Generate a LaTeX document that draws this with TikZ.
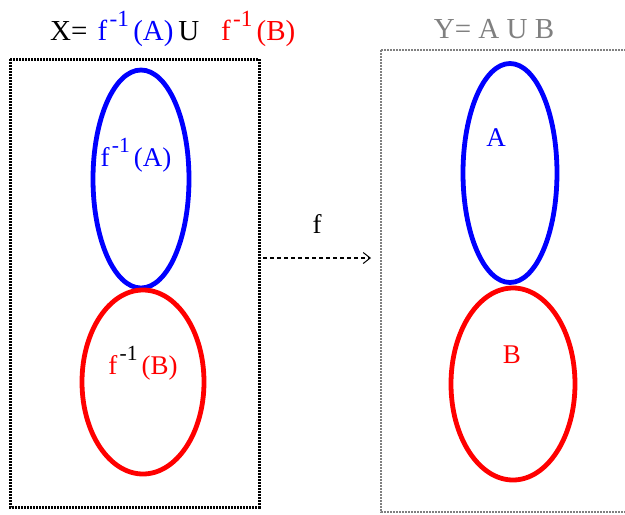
\documentclass[tikz,border=0pt]{standalone}
\usepackage{fontspec}
\usepackage{graphicx}
\setmainfont{Liberation Serif}
\usetikzlibrary{shapes.geometric,arrows.meta}
\definecolor{myblue}{RGB}{0,0,255}
\definecolor{myred}{RGB}{255,0,0}
\definecolor{mygray}{RGB}{128,128,128}
\newcommand\invsupc{\kern0.08em\raisebox{0.5em}{\scalebox{0.8}{-1}}\kern0.15em}
\tikzset{
  setbox/.style={line width=3pt, dash pattern=on 1.6pt off 1.4pt},
  blueset/.style={ellipse, draw=myblue, line width=4.8pt, inner sep=0pt},
  redset/.style={ellipse, draw=myred, line width=4.8pt, inner sep=0pt},
  lbl/.style={inner sep=0pt, font=\fontsize{27}{30}\selectfont},
  ttl/.style={inner sep=0pt, font=\fontsize{29}{32}\selectfont}
}
\begin{document}
\begin{tikzpicture}[x=1pt,y=-1pt]
\useasboundingbox (0,0) rectangle (625,515);
% boxes
\draw[setbox, black] (10,59) rectangle (259,507);
\draw[setbox, mygray, line width=2.5pt] (381,50) rectangle (640,512);
% ellipses
\node[blueset, minimum width=96pt, minimum height=218pt] (bA) at (141,179) {};
\node[redset, minimum width=122pt, minimum height=184pt] (rB) at (143,382) {};
\node[blueset, minimum width=94pt, minimum height=219pt] (yA) at (510,173) {};
\node[redset, minimum width=124pt, minimum height=192pt] (yB) at (513,384) {};
% labels
\node[lbl, text=myblue] (lA) at (136,155) {f\invsupc(A)};
\node[lbl, text=myred] (lB) at (143,363) {f\textcolor{black}{\invsupc}(B)};
\node[lbl, text=myblue] (tA) at (496,138) {A};
\node[lbl, text=myred] (tB) at (512,355) {B};
% titles
\node[ttl, anchor=west] (tX) at (50,29) {X=\hspace{0.35em}\textcolor{myblue}{f\invsupc(A)}\,U\hspace{0.75em}\textcolor{myred}{f\invsupc(B)}};
\node[ttl, text=mygray] (tY) at (494,29) {Y= A U B};
% map arrow
\coordinate (s) at (263,258);
\coordinate (e) at (371,258);
\draw[line width=1.3pt, dash pattern=on 4pt off 3pt, -{Straight Barb[length=7pt,width=11pt,line width=1pt]}] (s) -- (e);
\node[lbl] (fl) at (317,224) {f};
\end{tikzpicture}
\end{document}
